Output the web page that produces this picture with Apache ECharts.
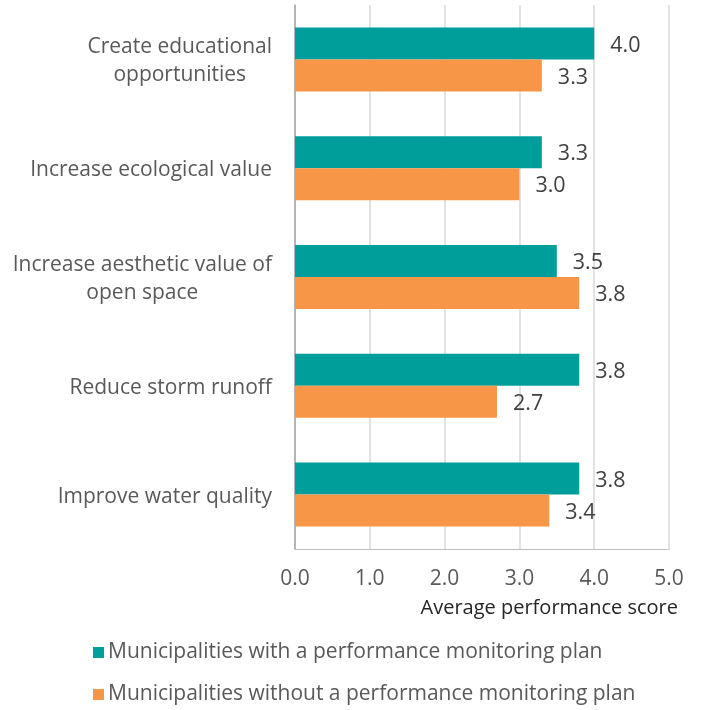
<!DOCTYPE html>
<html>
<head>
<meta charset="utf-8">
<script src="https://cdn.jsdelivr.net/npm/echarts@6/dist/echarts.min.js"></script>
<style>
  html, body { margin: 0; padding: 0; background: #ffffff; }
  #chart { width: 702px; height: 710px; }
</style>
</head>
<body>
<div id="chart"></div>
<script>
// Categories (top to bottom) and the two series of average scores
const categories = [
  'Create educational\nopportunities',
  'Increase ecological value',
  'Increase aesthetic value of\nopen space',
  'Reduce storm runoff',
  'Improve water quality'
];
const withPlan = [4.0, 3.3, 3.5, 3.8, 3.8];
const withoutPlan = [3.3, 3.0, 3.8, 2.7, 3.4];
const seriesNames = [
  'Municipalities with a performance monitoring plan',
  'Municipalities without a performance monitoring plan'
];
const axisTitle = 'Average performance score';

const FONT = 'Open Sans';
const TEXT = '#595959';
const TEAL = '#009E9B';
const ORANGE = '#F79646';
const FS = 21;

const chart = echarts.init(document.getElementById('chart'), null, { renderer: 'canvas' });

const valueLabel = {
  show: true,
  position: 'right',
  distance: 16,
  offset: [0, 2],
  color: '#404040',
  fontFamily: FONT,
  fontSize: 21.5,
  formatter: p => p.value.toFixed(1)
};

// one legend block per series, stacked vertically
const legendBlock = (name, top) => ({
  left: 88,
  top: top,
  itemWidth: 11,
  itemHeight: 11,
  icon: 'rect',
  textStyle: { color: TEXT, fontFamily: FONT, fontSize: FS, padding: [0, 0, 0, -1] },
  data: [name]
});

chart.setOption({
  animation: false,
  backgroundColor: '#ffffff',
  textStyle: { fontFamily: FONT },
  grid: { left: 295, right: 33, top: 5, bottom: 161, containLabel: false },
  legend: [
    legendBlock(seriesNames[0], 637),
    legendBlock(seriesNames[1], 679)
  ],
  xAxis: {
    type: 'value',
    min: 0,
    max: 5,
    interval: 1,
    name: axisTitle,
    nameLocation: 'end',
    nameGap: 9,
    nameTextStyle: {
      color: '#262626',
      fontFamily: FONT,
      fontSize: 20,
      align: 'right',
      verticalAlign: 'top',
      padding: [49, 0, 0, 0]
    },
    axisLine: { show: true, lineStyle: { color: '#BFBFBF', width: 1 } },
    axisTick: { show: false },
    axisLabel: {
      color: TEXT,
      fontFamily: FONT,
      fontSize: FS,
      margin: 20,
      formatter: v => v.toFixed(1)
    },
    splitLine: { show: true, lineStyle: { color: '#D9D9D9', width: 1.5 } }
  },
  yAxis: {
    type: 'category',
    inverse: true,
    data: categories,
    axisLine: { show: true, lineStyle: { color: '#A6A6A6', width: 1.5 } },
    axisTick: { show: false },
    axisLabel: {
      color: TEXT,
      fontFamily: FONT,
      fontSize: FS,
      margin: 23,
      lineHeight: 28,
      align: 'right',
      padding: [4, 0, 0, 0],
      formatter: v => v.split('\n').map(line => '{c|' + line + '}').join('\n'),
      rich: {
        c: { align: 'center', color: TEXT, fontFamily: FONT, fontSize: FS, lineHeight: 28 }
      }
    },
    splitLine: { show: false }
  },
  series: [
    {
      name: seriesNames[0],
      type: 'bar',
      data: withPlan,
      barWidth: 32,
      barGap: '0%',
      itemStyle: { color: TEAL },
      label: valueLabel
    },
    {
      name: seriesNames[1],
      type: 'bar',
      data: withoutPlan,
      barWidth: 32,
      barGap: '0%',
      itemStyle: { color: ORANGE },
      label: valueLabel
    }
  ]
});
</script>
</body>
</html>
